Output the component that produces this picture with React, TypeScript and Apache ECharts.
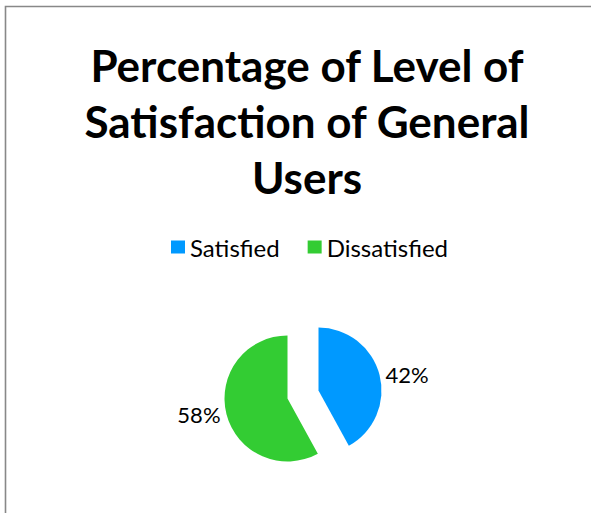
import React, { useEffect, useRef } from "react";
import * as echarts from "echarts";

const titleLines = ["Percentage of Level of", "Satisfaction of General", "Users"];
const categories = ["Satisfied", "Dissatisfied"];
const values = [42, 58];
const colors = ["#0099ff", "#33cc33"];

export default function App() {
  const ref = useRef<HTMLDivElement>(null);
  useEffect(() => {
    if (!ref.current) return;
    const chart = echarts.init(ref.current, undefined, { renderer: "svg" });
    chart.setOption({
      animation: false,
      backgroundColor: "#ffffff",
      title: {
        text: titleLines.join("\n"),
        left: 302,
        top: 32,
        textAlign: "center",
        textStyle: {
          fontFamily: "Lato",
          fontWeight: "bold",
          fontSize: 44,
          lineHeight: 56,
          color: "#000000",
        },
      },
      legend: {
        data: categories,
        left: 166,
        top: 230,
        icon: "rect",
        itemWidth: 14,
        itemHeight: 13,
        itemGap: 28,
        selectedMode: false,
        textStyle: { fontFamily: "Lato", fontSize: 24, color: "#000000" },
      },
      graphic: [
        {
          type: "polyline",
          shape: { points: [[5.5, 513], [5.5, 6.5], [591, 6.5]] },
          style: { stroke: "#888888", lineWidth: 1.6, fill: "none" },
          silent: true,
        },
      ],
      series: [
        {
          type: "pie",
          center: [303, 394.5],
          radius: 63,
          startAngle: 90,
          clockwise: true,
          selectedMode: "multiple",
          selectedOffset: 16,
          silent: true,
          emphasis: { disabled: true },
          select: { itemStyle: { borderWidth: 0 } },
          label: {
            show: true,
            position: "outside",
            formatter: "{c}%",
            fontFamily: "Lato",
            fontSize: 22,
            color: "#000000",
            distanceToLabelLine: 3,
          },
          labelLine: { show: false, length: 1, length2: 2 },
          data: categories.map((name, i) => ({
            name,
            value: values[i],
            selected: true,
            itemStyle: { color: colors[i] },
            select: { itemStyle: { color: colors[i] } },
          })),
        },
      ],
    });
    return () => chart.dispose();
  }, []);
  return (
    <div
      ref={ref}
      style={{ position: "absolute", left: 0, top: 0, width: 591, height: 513 }}
    />
  );
}
